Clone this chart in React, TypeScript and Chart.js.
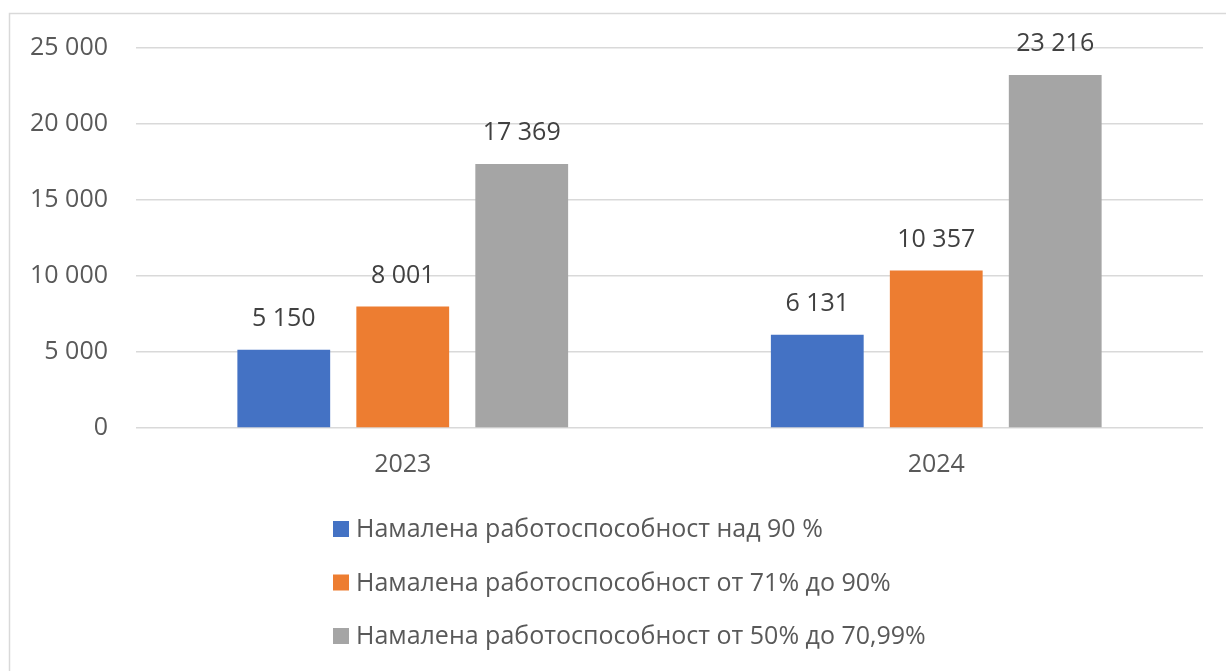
import React, { useEffect, useRef } from "react";
import { Chart, registerables } from "chart.js";

Chart.register(...registerables);

const categories = ["2023", "2024"];
const seriesNames = [
  "Намалена работоспособност над 90 %",
  "Намалена работоспособност от 71% до 90%",
  "Намалена работоспособност от 50% до 70,99%",
];
const over90 = [5150, 6131];
const from71to90 = [8001, 10357];
const from50to71 = [17369, 23216];
const seriesColors = ["#4472C4", "#ED7D31", "#A5A5A5"];
const yTicks = [0, 5000, 10000, 15000, 20000, 25000];

const W = 1226;
const H = 671;
const FONT = "'Open Sans', 'Noto Sans', sans-serif";
const FS = 25;

const fmt = (v: number) => String(v).replace(/\B(?=(\d{3})+(?!\d))/g, " ");

const framePlugin = {
  id: "frame",
  beforeDraw(chart: any) {
    const ctx = chart.ctx;
    ctx.save();
    ctx.fillStyle = "#ffffff";
    ctx.fillRect(0, 0, chart.width, chart.height);
    ctx.strokeStyle = "#d9d9d9";
    ctx.lineWidth = 1.5;
    ctx.strokeRect(9.5, 13.5, chart.width + 20, chart.height + 20);
    ctx.restore();
  },
};

const dataLabelPlugin = {
  id: "dataLabels",
  afterDatasetsDraw(chart: any) {
    const ctx = chart.ctx;
    ctx.save();
    ctx.font = `${FS}px ${FONT}`;
    ctx.fillStyle = "#404040";
    ctx.textAlign = "center";
    ctx.textBaseline = "middle";
    chart.data.datasets.forEach((ds: any, i: number) => {
      const meta = chart.getDatasetMeta(i);
      meta.data.forEach((bar: any, j: number) => {
        ctx.fillText(fmt(ds.data[j]), bar.x, bar.y - 31);
      });
    });
    ctx.restore();
  },
};

const legendPlugin = {
  id: "customLegend",
  afterDraw(chart: any) {
    const ctx = chart.ctx;
    const area = chart.chartArea;
    ctx.save();
    ctx.font = `${FS}px ${FONT}`;
    ctx.textBaseline = "middle";
    ctx.textAlign = "left";
    const x0 = 333;
    const y0 = area.bottom + 101;
    const step = 53.5;
    chart.data.datasets.forEach((ds: any, i: number) => {
      const y = y0 + i * step;
      ctx.fillStyle = ds.backgroundColor;
      ctx.fillRect(x0, y - 8, 16, 16);
      ctx.fillStyle = "#595959";
      ctx.fillText(ds.label, x0 + 23, y + 1);
    });
    ctx.restore();
  },
};

export default function App() {
  const ref = useRef<HTMLCanvasElement>(null);
  useEffect(() => {
    if (!ref.current) return;
    Chart.defaults.font.family = FONT;
    const values = [over90, from71to90, from50to71];
    const chart = new Chart(ref.current, {
      type: "bar",
      data: {
        labels: categories,
        datasets: values.map((d, i) => ({
          label: seriesNames[i],
          data: d,
          backgroundColor: seriesColors[i],
          categoryPercentage: 0.669,
          barPercentage: 0.78,
        })),
      },
      options: {
        responsive: false,
        animation: false,
        layout: { padding: { top: 48, right: 23, left: 0, bottom: 0 } },
        plugins: { legend: { display: false }, tooltip: { enabled: false } },
        scales: {
          x: {
            grid: { display: false, drawTicks: false },
            border: { display: false },
            ticks: { color: "#595959", font: { size: FS }, padding: 22 },
            afterFit: (s: any) => {
              s.height = 243;
            },
          },
          y: {
            min: 0,
            max: 25000,
            afterBuildTicks: (s: any) => {
              s.ticks = yTicks.map((v) => ({ value: v }));
            },
            grid: { color: "#d9d9d9", lineWidth: 1.5, drawTicks: false },
            border: { display: false },
            ticks: {
              color: "#595959",
              font: { size: FS },
              padding: 28,
              callback: (v: any) => fmt(Number(v)),
            },
            afterFit: (s: any) => {
              s.width = 136;
            },
          },
        },
      },
      plugins: [framePlugin, dataLabelPlugin, legendPlugin],
    });
    return () => chart.destroy();
  }, []);
  return (
    <div style={{ position: "absolute", left: 0, top: 0, width: W, height: H }}>
      <canvas ref={ref} width={W} height={H} style={{ width: W, height: H, display: "block" }} />
    </div>
  );
}
